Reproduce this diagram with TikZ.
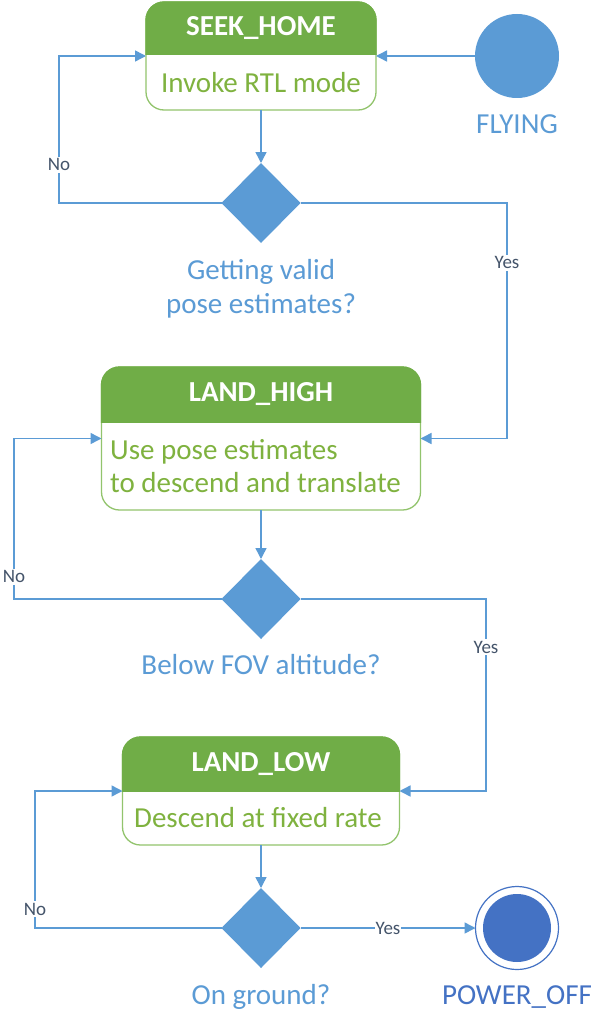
\documentclass[tikz,border=0pt]{standalone}
\usepackage{fontspec}
\setmainfont{Carlito}
\usetikzlibrary{shapes.geometric,arrows.meta}
\definecolor{hdr}{HTML}{70AD47}
\definecolor{bord}{HTML}{92C46D}
\definecolor{btxt}{HTML}{7FB23F}
\definecolor{lblue}{HTML}{5B9BD5}
\definecolor{dblue}{HTML}{4472C4}
\definecolor{lab}{HTML}{44546A}
\newcommand{\hdrfill}[2]{%
  \begin{scope}
    \clip ([xshift=-3pt,yshift=3pt]#1.north west) rectangle ([xshift=3pt,yshift=-#2]#1.north east);
    \filldraw[fill=hdr,draw=hdr,line width=1.3pt,rounded corners=18pt] (#1.north west) rectangle (#1.south east);
  \end{scope}}
\begin{document}
\begin{tikzpicture}[x=1pt,y=-1pt,
  statebox/.style={draw=bord, line width=1.3pt, fill=white, rounded corners=18pt, inner sep=0pt, outer sep=0pt},
  hdrtxt/.style={text=white, font=\fontsize{29}{34}\selectfont\bfseries, inner sep=0pt},
  bodytxt/.style={text=btxt, font=\fontsize{29}{33}\selectfont, inner sep=0pt},
  qtxt/.style={text=lblue, font=\fontsize{29}{34}\selectfont, inner sep=0pt, align=center},
  dec/.style={diamond, fill=lblue, minimum width=79pt, minimum height=80pt, inner sep=0pt, outer sep=0pt},
  conn/.style={draw=lblue, line width=1.5pt},
  arr/.style={conn, -{Triangle[length=11pt,width=11pt]}},
  yn/.style={text=lab, font=\fontsize{19}{21}\selectfont, fill=white, inner sep=2pt},
]
\useasboundingbox (0,0) rectangle (593,1014);
\fill[white] (0,0) rectangle (593,1014);

% states
\node[statebox, minimum width=230pt, minimum height=108pt] (sh) at (261,56) {};
\hdrfill{sh}{53pt}
\node[hdrtxt] (shh) at (261,28.5) {SEEK\_HOME};
\node[bodytxt] (shb) at (261,83) {Invoke RTL mode};

\node[statebox, minimum width=319pt, minimum height=143pt] (lh) at (261,438.5) {};
\hdrfill{lh}{55pt}
\node[hdrtxt] (lhh) at (261,394.5) {LAND\_HIGH};
\node[bodytxt, align=left, anchor=west] (lhb) at (110,466.5) {Use pose estimates\\to descend and translate};

\node[statebox, minimum width=277pt, minimum height=108pt] (ll) at (261,791) {};
\hdrfill{ll}{54pt}
\node[hdrtxt] (llh) at (261,764) {LAND\_LOW};
\node[bodytxt] (llb) at (258,818) {Descend at fixed rate};

% decisions
\node[dec] (d1) at (261,203) {};
\node[dec] (d2) at (261,599) {};
\node[dec] (d3) at (261,928) {};
\node[qtxt] (q1) at (261,289) {Getting valid\\pose estimates?};
\node[qtxt] (q2) at (261,665) {Below FOV altitude?};
\node[qtxt] (q3) at (261,997) {On ground?};

% start / end
\node[circle, fill=lblue, minimum size=84pt, inner sep=0pt, outer sep=0pt] (fly) at (517,56) {};
\node[qtxt] (flyl) at (517,124) {FLYING};
\node[circle, draw=dblue, line width=1.2pt, minimum size=83pt, inner sep=0pt, outer sep=0pt] (po) at (517,928) {};
\node[circle, fill=dblue, minimum size=68pt, inner sep=0pt] (poi) at (517,928) {};
\node[qtxt, text=dblue] (pol) at (517,997) {POWER\_OFF};

% connectors
\draw[arr] (fly) -- (sh);
\draw[arr] (sh) -- (d1);
\draw[arr] (lh) -- (d2);
\draw[arr] (ll) -- (d3);

\coordinate (c1) at (59,203);
\draw[arr] (d1.west) -- (c1) |- node[yn, pos=0.13] {No} (sh.west);
\coordinate (c2) at (507,203);
\draw[arr] (d1.east) -- (c2) |- node[yn, pos=0.127] {Yes} (lh.east);
\coordinate (c3) at (14,599);
\draw[arr] (d2.west) -- (c3) |- node[yn, pos=0.069] {No} (lh.west);
\coordinate (c4) at (486,599);
\draw[arr] (d2.east) -- (c4) |- node[yn, pos=0.125] {Yes} (ll.east);
\coordinate (c5) at (35,928);
\draw[arr] (d3.west) -- (c5) |- node[yn, pos=0.069] {No} (ll.west);
\draw[arr] (d3.east) -- node[yn, inner sep=1pt] {Yes} (po);
\end{tikzpicture}
\end{document}
